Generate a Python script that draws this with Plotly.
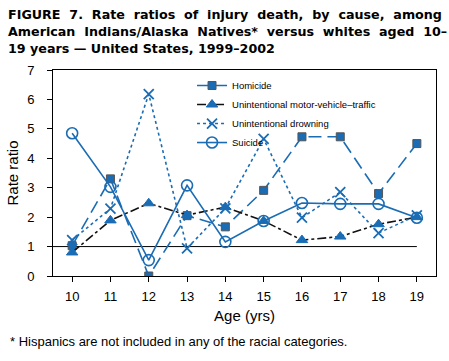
import plotly.graph_objects as go

ages = [10, 11, 12, 13, 14, 15, 16, 17, 18, 19]
homicide = [1.03, 3.3, 0.0, 2.05, 1.67, 2.91, 4.73, 4.73, 2.8, 4.5]
mvt = [0.8, 1.89, 2.47, 2.07, 2.34, 1.87, 1.22, 1.34, 1.76, 2.0]
drowning = [1.22, 2.29, 6.18, 0.94, 2.3, 4.66, 1.98, 2.85, 1.46, 2.06]
suicide = [4.85, 3.03, 0.54, 3.08, 1.16, 1.87, 2.48, 2.45, 2.45, 1.98]

title_lines = [
    "FIGURE 7. Rate ratios of injury death, by cause, among",
    "American Indians/Alaska Natives* versus whites aged 10\u2013",
    "19 years \u2014 United States, 1999\u20132002",
]
footnote = "* Hispanics are not included in any of the racial categories."

BLUE = "#1a6cb4"
FONT = "Liberation Sans, Arial, Helvetica, sans-serif"
TFONT = "DejaVu Sans, Liberation Sans, Arial, sans-serif"

fig = go.Figure()
fig.add_trace(go.Scatter(
    x=ages, y=homicide, name="Homicide", mode="lines+markers",
    line=dict(color=BLUE, width=1.6, dash="13px,6px"),
    marker=dict(symbol="square", size=8, color=BLUE, line=dict(color="#555555", width=1)),
))
fig.add_trace(go.Scatter(
    x=ages, y=mvt, name="Unintentional motor-vehicle\u2013traffic", mode="lines+markers",
    line=dict(color="#111111", width=1.6, dash="dashdot"),
    marker=dict(symbol="triangle-up", size=10, color=BLUE, line=dict(color=BLUE, width=1)),
))
fig.add_trace(go.Scatter(
    x=ages, y=drowning, name="Unintentional drowning", mode="lines+markers",
    line=dict(color=BLUE, width=1.6, dash="dot"),
    marker=dict(symbol="x-thin-open", size=10, color=BLUE, line=dict(color=BLUE, width=1.8)),
))
fig.add_trace(go.Scatter(
    x=ages, y=suicide, name="Suicide", mode="lines+markers",
    line=dict(color=BLUE, width=1.6),
    marker=dict(symbol="circle-open", size=11, color=BLUE, line=dict(color=BLUE, width=1.6)),
))

fig.add_shape(type="line", xref="x", yref="y", x0=9.5, x1=19, y0=1, y1=1,
              line=dict(color="black", width=1), layer="below")

annotations = []
justify = [True, True, False]
for line, ypos, just in zip(title_lines, [1.2694, 1.1869, 1.1044], justify):
    txt = line.replace(" ", " \u00a0") if just else line
    annotations.append(dict(
        text="<b>" + txt + "</b>", xref="paper", yref="paper",
        x=-0.1227, y=ypos, xanchor="left", yanchor="middle", showarrow=False,
        font=dict(family=TFONT, size=12.7, color="black"),
    ))
annotations.append(dict(
    text=footnote, xref="paper", yref="paper", x=-0.1175, y=-0.32,
    xanchor="left", yanchor="middle", showarrow=False,
    font=dict(size=13, family=FONT, color="black"),
))

fig.update_layout(
    width=449, height=361,
    margin=dict(l=53, r=13, t=70, b=85),
    paper_bgcolor="white", plot_bgcolor="white",
    font=dict(family=FONT, color="black", size=13),
    showlegend=True,
    legend=dict(x=0.363, y=0.995, xanchor="left", yanchor="top",
                bgcolor="rgba(0,0,0,0)", font=dict(size=9.5, family=FONT),
                itemwidth=30, tracegroupgap=0),
    xaxis=dict(range=[9.5, 19.5], tickmode="array", tickvals=ages,
               ticks="outside", ticklen=5, tickcolor="black", ticklabelstandoff=3,
               showline=True, linecolor="black", linewidth=1, mirror=True,
               showgrid=False, zeroline=False,
               tickfont=dict(size=13),
               title=dict(text="Age (yrs)", font=dict(size=15), standoff=7)),
    yaxis=dict(range=[0, 7], dtick=1, ticks="outside", ticklen=5, tickcolor="black",
               ticklabelstandoff=10,
               showline=True, linecolor="black", linewidth=1, mirror=True,
               showgrid=False, zeroline=False,
               tickfont=dict(size=13),
               title=dict(text="Rate ratio", font=dict(size=15), standoff=4)),
    annotations=annotations,
)

fig.write_html(
    "out.html",
    config={"displayModeBar": False},
    post_script="document.body.style.margin='0';document.documentElement.style.overflow='hidden';",
)
